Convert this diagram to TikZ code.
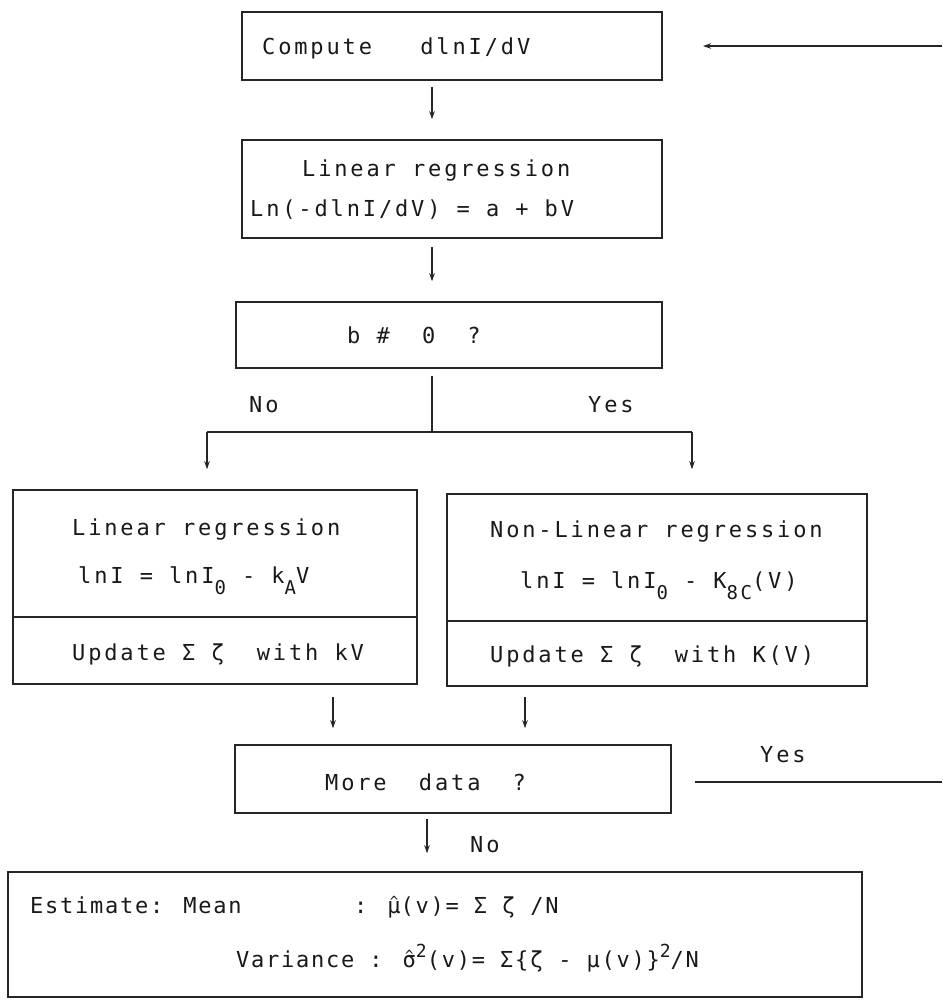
\documentclass[tikz,border=0pt]{standalone}
\usepackage{fontspec}
\newfontfamily\tw[LetterSpace=13]{DejaVu Sans Mono}
\newfontfamily\twn[LetterSpace=8]{DejaVu Sans Mono}
\usetikzlibrary{arrows.meta}
\newcommand{\lowr}[1]{\raisebox{-11pt}{\fontsize{19}{20}\selectfont #1}}
\newcommand{\upr}[1]{\raisebox{10pt}{\fontsize{18}{20}\selectfont #1}}
\newcommand{\hatover}[1]{\ooalign{#1\cr\hidewidth\raisebox{6.5pt}{\fontsize{14}{14}\selectfont\char"5E}\hidewidth\cr}}
\begin{document}
\begin{tikzpicture}[x=1pt,y=-1pt,
  box/.style={draw=black!85, line width=1.5pt, inner sep=0pt, rectangle},
  txt/.style={anchor=base west, inner sep=0pt, font={\tw\fontsize{22}{26}\selectfont}, text=black!90},
  txtn/.style={txt, font={\twn\fontsize{22}{26}\selectfont}},
  arr/.style={draw=black!85, line width=1.2pt, -{Stealth[length=8pt,width=5.5pt]}},
  ln/.style={draw=black!85, line width=1.3pt}]
\useasboundingbox (0,0) rectangle (942,1003);

% boxes
\node[box, minimum width=420pt, minimum height=68pt] (b1) at (452,46) {};
\node[box, minimum width=420pt, minimum height=98pt] (b2) at (452,189) {};
\node[box, minimum width=426pt, minimum height=66pt] (b3) at (449,335) {};
\node[box, minimum width=404pt, minimum height=194pt] (b4) at (215,587) {};
\node[box, minimum width=420pt, minimum height=192pt] (b5) at (657,590) {};
\node[box, minimum width=436pt, minimum height=68pt] (b6) at (453,779) {};
\node[box, minimum width=854pt, minimum height=125pt] (b7) at (435,934.5) {};

% dividers
\draw[box] (b4.west |- 0,617) -- (b4.east |- 0,617);
\draw[box] (b5.west |- 0,621) -- (b5.east |- 0,621);

% texts
\node[txt] (t1) at (262,55) {Compute~~~dlnI/dV};
\node[txt] (t2a) at (302,176) {Linear regression};
\node[txt] (t2b) at (250,216) {Ln(-dlnI/dV) = a + bV};
\node[txt] (t3) at (347,343) {b~\#~~0~~?};
\node[txt] (tno1) at (249,412) {No};
\node[txt] (tyes1) at (588,412) {Yes};
\node[txt] (t4a) at (72,535) {Linear regression};
\node[txt] (t4b) at (78,583) {lnI = lnI\lowr{0} - k\lowr{A}V};
\node[txt] (t4c) at (72,660) {Update Σ ζ~~with kV};
\node[txt] (t5a) at (490,537) {Non-Linear regression};
\node[txt] (t5b) at (520,588) {lnI = lnI\lowr{0} - K\lowr{8C}(V)};
\node[txt] (t5c) at (490,662) {Update Σ ζ~~with K(V)};
\node[txt] (t6) at (325,790) {More~~data~~?};
\node[txt] (tyes2) at (760,762) {Yes};
\node[txt] (tno2) at (470,852) {No};
\node[txtn] (t7a) at (30,913) {Estimate: Mean};
\node[txtn] (t7b) at (354,913) {: \hatover{μ}(v)= Σ ζ /N};
\node[txtn] (t7c) at (236,967) {Variance : \hatover{σ}\upr{2}(v)= Σ\{ζ - μ(v)\}\upr{2}/N};

% connectors
\coordinate (fbR) at (942,46);
\coordinate (fbL) at (703,46);
\draw[arr] (fbR) -- (fbL);
\draw[arr] ([xshift=-20pt,yshift=-6pt]b1.south) -- ([xshift=-20pt,yshift=20pt]b2.north);
\draw[arr] ([xshift=-20pt,yshift=-8pt]b2.south) -- ([xshift=-17pt,yshift=20pt]b3.north);
\coordinate (sp) at (432,432);
\coordinate (spL) at (207,432);
\coordinate (spR) at (692,432);
\draw[ln] ([xshift=-17pt,yshift=-7pt]b3.south) -- (sp);
\draw[ln] (spL) -- (spR);
\draw[arr] (spL) -- ([yshift=20pt]spL |- b4.north);
\draw[arr] (spR) -- ([yshift=24pt]spR |- b5.north);
\draw[arr] ([yshift=-12pt]b4.south -| 333,0) -- ([yshift=16pt]b6.north -| 333,0);
\draw[arr] ([yshift=-10pt]b5.south -| 525,0) -- ([yshift=16pt]b6.north -| 525,0);
\coordinate (yR) at (942,782);
\draw[ln] ([xshift=23pt]b6.east |- yR) -- (yR);
\draw[arr] ([yshift=-5pt]b6.south -| 427,0) -- ([yshift=18pt]b7.north -| 427,0);
\end{tikzpicture}
\end{document}
